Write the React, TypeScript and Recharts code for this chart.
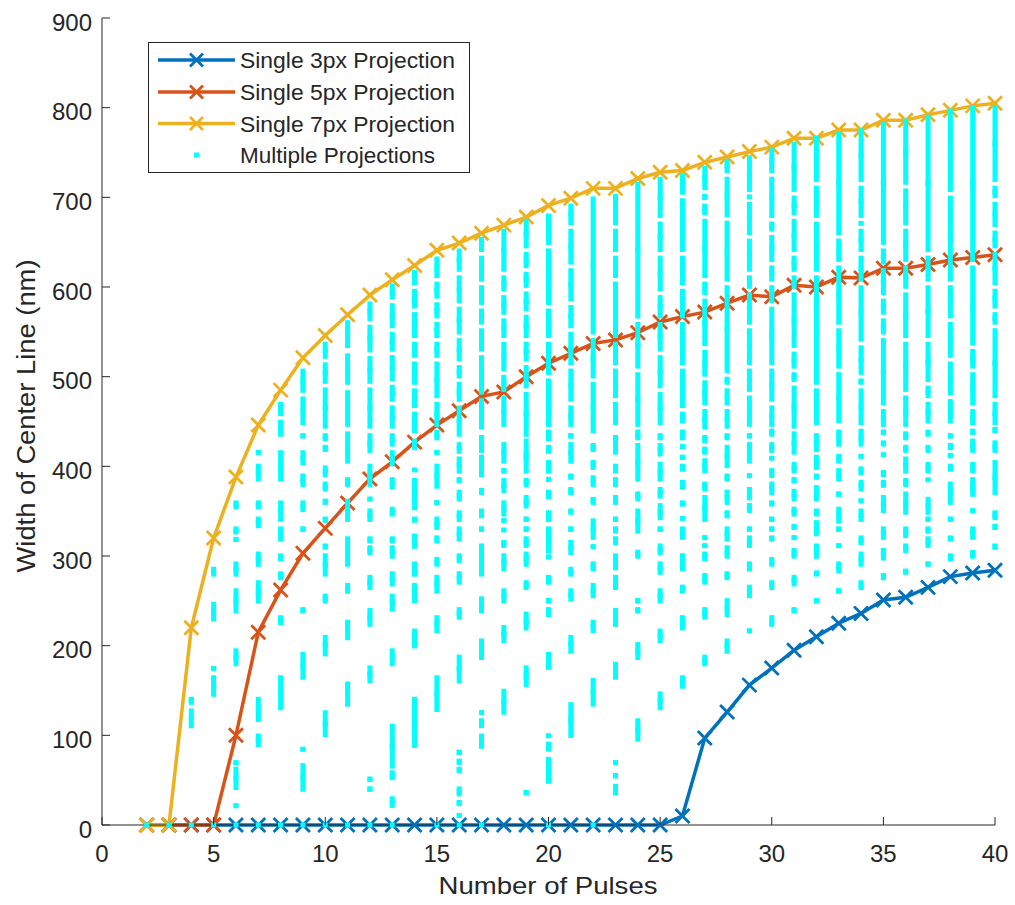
import React from 'react';
import { ComposedChart, Line, Scatter, ErrorBar, XAxis, YAxis } from 'recharts';

// pulses on the x axis
const pulses = [2, 3, 4, 5, 6, 7, 8, 9, 10, 11, 12, 13, 14, 15, 16, 17, 18, 19, 20, 21, 22, 23, 24, 25, 26, 27, 28, 29, 30, 31, 32, 33, 34, 35, 36, 37, 38, 39, 40];

const single3px = [0, 0, 0, 0, 0, 0, 0, 0, 0, 0, 0, 0, 0, 0, 0, 0, 0, 0, 0, 0, 0, 0, 0, 0, 10, 97, 126, 156, 175, 195, 210, 225, 236, 251, 254, 265, 277, 281, 284];
const single5px = [0, 0, 0, 0, 100, 215, 262, 303, 331, 359, 386, 405, 427, 446, 462, 478, 483, 500, 515, 526, 537, 541, 549, 561, 567, 572, 582, 591, 589, 602, 600, 611, 610, 621, 621, 625, 630, 633, 636];
const single7px = [0, 0, 220, 320, 388, 446, 485, 521, 546, 569, 591, 608, 624, 641, 649, 660, 669, 678, 691, 699, 710, 710, 721, 728, 730, 739, 745, 751, 756, 766, 766, 775, 775, 786, 786, 792, 797, 802, 805];

// multiple projections: runs of points for each pulse count, [low, high]
const multiPulses = pulses;
const multiRuns: number[][][] = [
  [[0, 0]],
  [[0, 0]],
  [[0, 0], [108, 130], [134, 143]],
  [[0, 0], [143, 167], [172, 177], [227, 249], [277, 288]],
  [[0, 0], [19, 24], [39, 65], [67, 72], [177, 197], [236, 264], [277, 294], [316, 321], [324, 333], [352, 362]],
  [[0, 0], [87, 102], [115, 143], [247, 273], [288, 305], [331, 344], [352, 362], [383, 403], [413, 418]],
  [[0, 0], [128, 167], [223, 234], [273, 283], [294, 303], [316, 333], [338, 362], [383, 418], [433, 452], [456, 472]],
  [[0, 0], [37, 69], [82, 87], [162, 193], [236, 243], [327, 333], [349, 362], [377, 392], [401, 418], [431, 437], [446, 478], [482, 509]],
  [[0, 0], [98, 128], [188, 212], [247, 258], [277, 303], [307, 314], [337, 344], [357, 364], [372, 383], [388, 401], [416, 424], [428, 437], [442, 488], [492, 516], [520, 539]],
  [[0, 0], [132, 160], [206, 229], [258, 270], [288, 322], [338, 364], [377, 388], [403, 439], [444, 485], [491, 526], [532, 563]],
  [[0, 0], [37, 43], [48, 54], [158, 178], [221, 242], [262, 279], [301, 312], [314, 322], [338, 353], [361, 366], [377, 403], [415, 437], [442, 488], [492, 523], [527, 558], [562, 584]],
  [[0, 0], [19, 32], [50, 61], [63, 113], [177, 197], [238, 258], [266, 283], [297, 312], [314, 322], [344, 355], [374, 388], [400, 418], [422, 437], [442, 468], [472, 491], [495, 524], [528, 550], [554, 582], [586, 604]],
  [[86, 143], [197, 219], [247, 270], [277, 294], [308, 325], [337, 344], [351, 387], [394, 398], [418, 431], [437, 461], [465, 487], [491, 517], [521, 539], [543, 572], [576, 598], [602, 619]],
  [[0, 0], [126, 167], [214, 234], [258, 279], [288, 299], [314, 323], [329, 344], [357, 362], [375, 403], [413, 418], [429, 441], [444, 472], [476, 517], [521, 539], [543, 561], [565, 583], [587, 606], [610, 634]],
  [[0, 0], [8, 13], [21, 28], [32, 43], [58, 65], [67, 74], [78, 84], [158, 190], [229, 243], [268, 283], [292, 303], [316, 333], [338, 351], [361, 374], [381, 388], [392, 411], [414, 427], [433, 468], [472, 494], [498, 513], [517, 543], [547, 578], [582, 613], [617, 643]],
  [[0, 0], [85, 102], [108, 119], [123, 128], [184, 208], [236, 255], [277, 314], [327, 333], [342, 353], [368, 376], [388, 413], [415, 435], [441, 476], [480, 524], [528, 554], [558, 576], [580, 602], [606, 635], [639, 656]],
  [[123, 152], [203, 223], [247, 264], [283, 303], [309, 318], [327, 331], [337, 342], [344, 362], [370, 387], [392, 398], [403, 427], [444, 479], [483, 502], [506, 539], [543, 565], [569, 591], [595, 613], [617, 665]],
  [[33, 39], [154, 178], [217, 238], [262, 273], [288, 305], [309, 322], [327, 333], [338, 344], [353, 368], [377, 387], [392, 431], [433, 483], [487, 513], [517, 539], [543, 569], [573, 595], [599, 617], [621, 639], [643, 676]],
  [[0, 0], [46, 76], [82, 93], [97, 102], [173, 193], [232, 243], [247, 253], [268, 279], [297, 301], [303, 333], [338, 351], [363, 374], [383, 388], [392, 407], [414, 424], [428, 441], [444, 498], [502, 539], [543, 576], [580, 643], [647, 682]],
  [[97, 137], [191, 212], [249, 264], [277, 288], [301, 318], [327, 333], [346, 353], [368, 377], [385, 392], [403, 427], [431, 437], [444, 468], [472, 509], [513, 550], [554, 580], [584, 621], [625, 665], [669, 693]],
  [[0, 0], [132, 164], [214, 229], [253, 270], [283, 294], [309, 312], [318, 342], [357, 366], [377, 390], [396, 407], [416, 426], [437, 494], [498, 543], [547, 701]],
  [[33, 46], [52, 58], [67, 72], [162, 182], [221, 242], [262, 279], [284, 303], [312, 322], [325, 333], [338, 344], [357, 368], [377, 388], [392, 403], [413, 435], [446, 472], [476, 509], [513, 539], [543, 606], [610, 635], [639, 665], [669, 704]],
  [[93, 119], [184, 204], [236, 243], [247, 253], [297, 307], [325, 353], [361, 372], [383, 426], [429, 441], [444, 505], [509, 561], [565, 717]],
  [[128, 149], [203, 219], [247, 264], [279, 294], [301, 314], [327, 333], [340, 359], [364, 377], [383, 405], [411, 426], [429, 437], [446, 483], [487, 524], [528, 561], [565, 591], [595, 635], [639, 673], [677, 723]],
  [[152, 167], [217, 234], [258, 268], [283, 303], [318, 333], [340, 344], [355, 362], [374, 385], [394, 403], [407, 413], [420, 424], [429, 441], [448, 461], [465, 509], [513, 561], [565, 598], [602, 635], [639, 699], [703, 727]],
  [[177, 190], [229, 243], [268, 281], [294, 305], [309, 314], [318, 323], [338, 368], [372, 383], [392, 409], [413, 422], [426, 435], [441, 464], [468, 496], [500, 530], [534, 587], [591, 606], [610, 676], [680, 693], [697, 704], [708, 735]],
  [[191, 208], [232, 253], [273, 283], [297, 312], [316, 333], [342, 351], [357, 374], [383, 392], [398, 424], [429, 437], [442, 464], [468, 487], [491, 500], [504, 602], [606, 674], [678, 723], [727, 743]],
  [[214, 219], [253, 268], [283, 294], [309, 323], [327, 333], [348, 359], [362, 377], [387, 392], [403, 427], [431, 437], [444, 479], [483, 509], [513, 554], [558, 594], [598, 613], [617, 654], [658, 695], [699, 702], [706, 747]],
  [[221, 234], [262, 273], [288, 299], [316, 323], [327, 333], [338, 344], [355, 362], [368, 383], [387, 398], [407, 411], [415, 427], [433, 442], [444, 468], [472, 509], [513, 578], [582, 602], [606, 624], [628, 658], [662, 673], [677, 723], [727, 756]],
  [[236, 243], [266, 279], [297, 309], [318, 323], [329, 336], [344, 355], [361, 375], [381, 388], [392, 405], [413, 439], [442, 490], [494, 505], [509, 528], [532, 594], [598, 613], [617, 635], [639, 676], [680, 702], [706, 762]],
  [[247, 253], [277, 284], [297, 314], [322, 340], [344, 353], [361, 379], [385, 392], [396, 413], [416, 437], [446, 487], [491, 613], [617, 673], [677, 713], [717, 769]],
  [[258, 264], [281, 294], [309, 314], [327, 333], [336, 355], [366, 372], [383, 398], [403, 414], [422, 441], [448, 505], [509, 554], [558, 624], [628, 654], [658, 773]],
  [[262, 273], [288, 305], [312, 323], [338, 353], [359, 364], [372, 385], [390, 400], [409, 413], [422, 442], [446, 487], [491, 498], [502, 535], [539, 602], [606, 635], [639, 665], [669, 673], [677, 713], [717, 777]],
  [[273, 281], [295, 309], [318, 333], [348, 368], [376, 385], [388, 396], [411, 415], [422, 429], [435, 441], [444, 464], [468, 543], [547, 565], [569, 587], [591, 621], [625, 643], [647, 784]],
  [[279, 286], [303, 314], [320, 333], [346, 372], [377, 387], [392, 411], [415, 424], [429, 439], [444, 479], [483, 539], [543, 594], [598, 624], [628, 665], [669, 710], [714, 788]],
  [[288, 294], [309, 322], [325, 333], [338, 344], [346, 366], [383, 387], [392, 405], [415, 424], [433, 441], [448, 472], [476, 490], [494, 539], [543, 602], [606, 635], [639, 792]],
  [[294, 303], [316, 323], [338, 344], [357, 383], [394, 403], [409, 415], [418, 426], [431, 437], [448, 475], [479, 517], [521, 561], [565, 602], [606, 702], [706, 799]],
  [[297, 307], [318, 333], [348, 353], [366, 388], [392, 405], [415, 431], [435, 442], [446, 464], [468, 505], [509, 531], [535, 624], [628, 803]],
  [[307, 314], [329, 336], [340, 351], [368, 407], [415, 429], [437, 444], [446, 472], [476, 554], [558, 572], [576, 598], [602, 639], [643, 663], [667, 695], [699, 713], [717, 803]],
];

const xTicks = [0, 5, 10, 15, 20, 25, 30, 35, 40];
const yTicks = [0, 100, 200, 300, 400, 500, 600, 700, 800, 900];

const seriesNames = ['Single 3px Projection', 'Single 5px Projection', 'Single 7px Projection', 'Multiple Projections'];
const COLORS = ['#0072BD', '#D95319', '#EDB120', '#00FFFF'];

const AXIS = '#262626';
const FONT = '"Liberation Sans", Arial, Helvetica, sans-serif';

const toLine = (ys: number[]) => pulses.map((x, i) => ({ x, y: ys[i] }));

const multiData = multiPulses.flatMap((x, i) =>
  multiRuns[i].map(([lo, hi]) => ({ x, y: (lo + hi) / 2, err: (hi - lo) / 2 }))
);

function crossDot(color: string) {
  return (props: any) => {
    const { cx, cy, index } = props;
    if (cx == null || cy == null) return <g key={`n-${index}`} />;
    const s = 7;
    return (
      <path
        key={`d-${index}`}
        d={`M${cx - s},${cy - s}L${cx + s},${cy + s}M${cx - s},${cy + s}L${cx + s},${cy - s}`}
        stroke={color}
        strokeWidth={2.8}
        fill="none"
      />
    );
  };
}

const cyanSquare = (props: any) => {
  const { cx, cy } = props;
  if (cx == null || cy == null) return <g />;
  return <rect x={cx - 2.5} y={cy - 2.5} width={5} height={5} fill={COLORS[3]} />;
};

const XTick = (props: any) => {
  const { x, y, payload } = props;
  return (
    <g>
      <line x1={x} x2={x} y1={y} y2={y - 8} stroke={AXIS} strokeWidth={1} />
      <text x={x} y={y + 37} textAnchor="middle" fontSize={24} fill={AXIS} fontFamily={FONT}>
        {payload.value}
      </text>
    </g>
  );
};

const YTick = (props: any) => {
  const { x, y, payload } = props;
  return (
    <g>
      <line x1={x} x2={x + 8} y1={y} y2={y} stroke={AXIS} strokeWidth={1} />
      <text x={x - 10} y={y + 12.5} textAnchor="end" fontSize={24} fill={AXIS} fontFamily={FONT}>
        {payload.value}
      </text>
    </g>
  );
};

function LegendBox() {
  const rows = [18, 50, 81.5, 113];
  return (
    <svg width={323} height={132} style={{ position: 'absolute', left: 148, top: 42 }}>
      <rect x={0.5} y={0.5} width={321} height={130} fill="#ffffff" stroke={AXIS} strokeWidth={1} />
      {seriesNames.map((name, i) => (
        <g key={name}>
          {i < 3 ? (
            <g>
              <line x1={10} x2={87} y1={rows[i]} y2={rows[i]} stroke={COLORS[i]} strokeWidth={3.5} />
              <path
                d={`M${42},${rows[i] - 6.5}L${55},${rows[i] + 6.5}M${42},${rows[i] + 6.5}L${55},${rows[i] - 6.5}`}
                stroke={COLORS[i]}
                strokeWidth={2.8}
              />
            </g>
          ) : (
            <rect x={46} y={rows[i] - 2.5} width={5} height={5} fill={COLORS[3]} />
          )}
          <text
            x={92}
            y={rows[i] + 8}
            fontSize={21.5}
            fill={AXIS}
            fontFamily={FONT}
            textLength={i < 3 ? 215 : 195}
            lengthAdjust="spacingAndGlyphs"
          >
            {name}
          </text>
        </g>
      ))}
    </svg>
  );
}

export default function App() {
  return (
    <div style={{ position: 'absolute', left: 0, top: 0, width: 1015, height: 905, background: '#ffffff' }}>
      <ComposedChart width={1015} height={905} margin={{ top: 18, right: 20, bottom: 0, left: 0 }}>
        <XAxis
          type="number"
          dataKey="x"
          domain={[0, 40]}
          ticks={xTicks}
          interval={0}
          height={80}
          tickLine={false}
          tickSize={0}
          tickMargin={0}
          tick={<XTick />}
          axisLine={{ stroke: AXIS, strokeWidth: 1 }}
          label={{
            content: () => (
              <text
                x={548}
                y={894}
                textAnchor="middle"
                fontSize={24}
                fill={AXIS}
                fontFamily={FONT}
                textLength={219}
                lengthAdjust="spacingAndGlyphs"
              >
                Number of Pulses
              </text>
            ),
          }}
        />
        <YAxis
          type="number"
          domain={[0, 900]}
          ticks={yTicks}
          interval={0}
          width={102}
          tickLine={false}
          tickSize={0}
          tickMargin={0}
          tick={<YTick />}
          axisLine={{ stroke: AXIS, strokeWidth: 1 }}
          label={{
            content: () => (
              <text
                x={35}
                y={416}
                transform="rotate(-90 35 416)"
                textAnchor="middle"
                fontSize={25}
                fill={AXIS}
                fontFamily={FONT}
                textLength={313}
                lengthAdjust="spacingAndGlyphs"
              >
                Width of Center Line (nm)
              </text>
            ),
          }}
        />
        <Line
          data={toLine(single3px)}
          dataKey="y"
          stroke={COLORS[0]}
          strokeWidth={3.5}
          dot={crossDot(COLORS[0])}
          isAnimationActive={false}
          name={seriesNames[0]}
          zIndex={400}
        />
        <Line
          data={toLine(single5px)}
          dataKey="y"
          stroke={COLORS[1]}
          strokeWidth={3.5}
          dot={crossDot(COLORS[1])}
          isAnimationActive={false}
          name={seriesNames[1]}
          zIndex={401}
        />
        <Line
          data={toLine(single7px)}
          dataKey="y"
          stroke={COLORS[2]}
          strokeWidth={3.5}
          dot={crossDot(COLORS[2])}
          isAnimationActive={false}
          name={seriesNames[2]}
          zIndex={402}
        />
        <Scatter
          data={multiData}
          dataKey="y"
          fill={COLORS[3]}
          shape={cyanSquare}
          isAnimationActive={false}
          name={seriesNames[3]}
          zIndex={700}
        >
          <ErrorBar
            dataKey="err"
            direction="y"
            width={0}
            stroke={COLORS[3]}
            strokeWidth={5}
            isAnimationActive={false}
            zIndex={700}
          />
        </Scatter>
      </ComposedChart>
      <LegendBox />
    </div>
  );
}
